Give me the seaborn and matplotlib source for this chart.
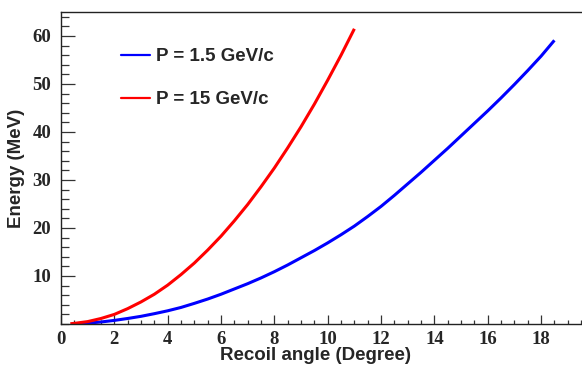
import matplotlib
matplotlib.use("Agg")
import matplotlib.pyplot as plt
from matplotlib.lines import Line2D
from matplotlib.ticker import MultipleLocator, FixedLocator
import seaborn as sns
import pandas as pd

# Data
angle_15 = [0.35, 0.5, 1, 1.5, 2, 2.5, 3, 3.5, 4, 4.5, 5, 5.5, 6, 6.5, 7, 7.5,
            8, 8.5, 9, 9.5, 10, 10.5, 11]
energy_15 = [0.06, 0.13, 0.5, 1.15, 2.0, 3.2, 4.6, 6.2, 8.1, 10.3, 12.7, 15.4,
             18.3, 21.5, 24.9, 28.6, 32.5, 36.7, 41.1, 45.8, 50.8, 56.0, 61.5]

angle_1p5 = [0.5, 1, 1.5, 2, 2.5, 3, 3.5, 4, 4.5, 5, 5.5, 6, 6.5, 7, 7.5, 8,
             8.5, 9, 9.5, 10, 10.5, 11, 11.5, 12, 12.5, 13, 13.5, 14, 14.5, 15,
             15.5, 16, 16.5, 17, 17.5, 18, 18.5]
energy_1p5 = [0.05, 0.18, 0.42, 0.75, 1.15, 1.6, 2.15, 2.75, 3.45, 4.3, 5.2, 6.2,
              7.3, 8.4, 9.6, 10.9, 12.3, 13.8, 15.3, 16.9, 18.6, 20.4, 22.4, 24.5,
              26.8, 29.2, 31.6, 34.1, 36.6, 39.2, 41.8, 44.4, 47.1, 49.9, 52.8,
              55.8, 59.1]

series_labels = ["P = 1.5 GeV/c", "P = 15 GeV/c"]
series_colors = ["#0000ff", "#ff0000"]

x_ticks = [0, 2, 4, 6, 8, 10, 12, 14, 16, 18]
y_ticks = [10, 20, 30, 40, 50, 60]

df = pd.concat([
    pd.DataFrame({"angle": angle_1p5, "energy": energy_1p5, "series": series_labels[0]}),
    pd.DataFrame({"angle": angle_15, "energy": energy_15, "series": series_labels[1]}),
], ignore_index=True)

sns.set_style("ticks")
plt.rcParams["font.family"] = ["Liberation Sans", "DejaVu Sans"]

W, H = 582, 372
fig = plt.figure(figsize=(W / 100, H / 100), dpi=100)
ax_l, ax_r, ax_t, ax_b = 61, 582, 12, 324
ax = fig.add_axes([ax_l / W, (H - ax_b) / H, (ax_r - ax_l) / W, (ax_b - ax_t) / H])

sns.lineplot(data=df, x="angle", y="energy", hue="series",
             palette=dict(zip(series_labels, series_colors)),
             linewidth=2.2, legend=False, ax=ax, sort=False, estimator=None)
for ln in ax.get_lines():
    ln.set_solid_joinstyle("round")
    ln.set_solid_capstyle("butt")

ax.set_xlim(0, (ax_r - ax_l) / 26.67)
ax.set_ylim(0, 65)

ax.xaxis.set_major_locator(FixedLocator(x_ticks))
ax.xaxis.set_minor_locator(MultipleLocator(0.5))
ax.yaxis.set_major_locator(FixedLocator(y_ticks))
ax.yaxis.set_minor_locator(MultipleLocator(2))

ax.tick_params(axis="x", which="major", direction="in", length=6.7, width=0.9,
               color="#333333", pad=5)
ax.tick_params(axis="x", which="minor", direction="in", length=3.2, width=0.9,
               color="#333333")
ax.tick_params(axis="y", which="major", direction="in", length=10, width=0.9,
               color="#333333", pad=7)
ax.tick_params(axis="y", which="minor", direction="in", length=5.5, width=0.9,
               color="#333333")
ax.tick_params(top=False, right=False, which="both")

for lab in ax.get_xticklabels() + ax.get_yticklabels():
    lab.set_family(["Liberation Serif", "DejaVu Serif"])
    lab.set_fontweight("bold")
    lab.set_fontsize(13.5)

for s in ["left", "bottom", "top"]:
    ax.spines[s].set_color("#222222")
    ax.spines[s].set_linewidth(1.0)
ax.spines["right"].set_visible(False)
ax.spines["top"].set_visible(True)

ax.set_xlabel("Recoil angle (Degree)", fontsize=13.5, fontweight="bold")
ax.set_ylabel("Energy (MeV)", fontsize=13.5, fontweight="bold")
ax.xaxis.set_label_coords((316 - ax_l) / (ax_r - ax_l), (ax_b - 356) / (ax_b - ax_t))
ax.xaxis.label.set_va("center")
ax.yaxis.set_label_coords((17 - ax_l) / (ax_r - ax_l), 0.5)
ax.yaxis.label.set_va("center")

handles = [Line2D([], [], color=c, linewidth=1.6) for c in series_colors]
leg = ax.legend(handles, series_labels, loc="upper left",
                bbox_to_anchor=((121 - ax_l) / (ax_r - ax_l), (ax_b - 48) / (ax_b - ax_t)),
                frameon=False, borderpad=0, borderaxespad=0,
                handlelength=1.55, handletextpad=0.32, labelspacing=1.4,
                prop={"family": ["Liberation Sans", "DejaVu Sans"], "weight": "bold", "size": 13.5})

fig.savefig("out.png", dpi=100)
